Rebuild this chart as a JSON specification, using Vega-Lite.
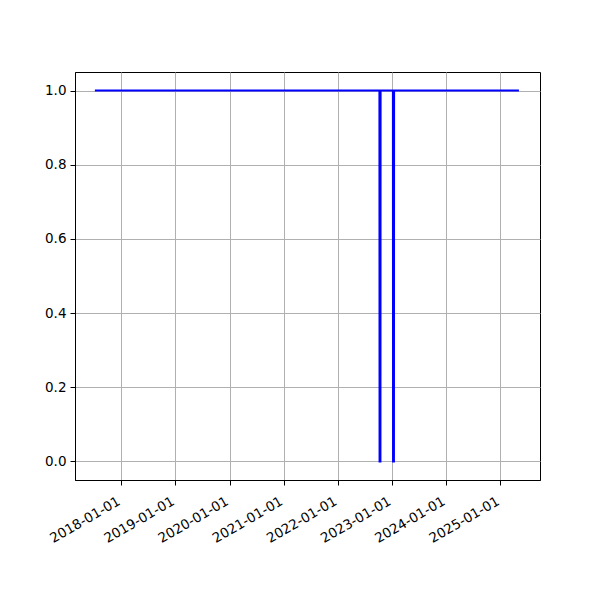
{
  "$schema": "https://vega.github.io/schema/vega-lite/v6.json",
  "width": 465,
  "height": 408,
  "autosize": {"type": "none"},
  "padding": {"left": 75, "top": 72, "right": 60, "bottom": 120},
  "background": "white",
  "config": {
    "view": {"stroke": "black", "strokeWidth": 1},
    "axis": {
      "labelFont": "DejaVu Sans",
      "labelFontSize": 13.5,
      "labelColor": "black",
      "domainColor": "black",
      "tickColor": "black",
      "tickSize": 5,
      "gridColor": "#b0b0b0",
      "gridWidth": 1,
      "title": null
    }
  },
  "data": {
    "values": [
      {"date": "2017-07-07", "value": 1},
      {"date": "2022-10-08", "value": 1},
      {"date": "2022-10-09", "value": 0},
      {"date": "2022-10-15", "value": 0},
      {"date": "2022-10-16", "value": 1},
      {"date": "2023-01-07", "value": 1},
      {"date": "2023-01-08", "value": 0},
      {"date": "2023-01-14", "value": 0},
      {"date": "2023-01-15", "value": 1},
      {"date": "2025-05-06", "value": 1}
    ]
  },
  "mark": {"type": "line", "color": "#0000ff", "strokeWidth": 2, "clip": true},
  "encoding": {
    "x": {
      "field": "date",
      "type": "temporal",
      "scale": {"type": "utc", "domain": [{"year": 2017, "month": 2, "date": 23, "utc": true}, {"year": 2025, "month": 9, "date": 25, "utc": true}]},
      "axis": {
        "values": [
          {"year": 2018, "month": 1, "date": 1, "utc": true},
          {"year": 2019, "month": 1, "date": 1, "utc": true},
          {"year": 2020, "month": 1, "date": 1, "utc": true},
          {"year": 2021, "month": 1, "date": 1, "utc": true},
          {"year": 2022, "month": 1, "date": 1, "utc": true},
          {"year": 2023, "month": 1, "date": 1, "utc": true},
          {"year": 2024, "month": 1, "date": 1, "utc": true},
          {"year": 2025, "month": 1, "date": 1, "utc": true}
        ],
        "labelExpr": "utcFormat(datum.value, '%Y-%m-%d')",
        "labelAngle": -30,
        "labelAlign": "right",
        "labelBaseline": "top",
        "labelPadding": 9,
        "labelOffset": -6,
        "labelOverlap": false,
        "labelBound": false,
        "grid": true
      }
    },
    "y": {
      "field": "value",
      "type": "quantitative",
      "scale": {"domain": [-0.05, 1.05], "nice": false, "zero": false},
      "axis": {"values": [0, 0.2, 0.4, 0.6, 0.8, 1.0], "format": ".1f", "grid": true, "labelPadding": 4}
    }
  }
}
